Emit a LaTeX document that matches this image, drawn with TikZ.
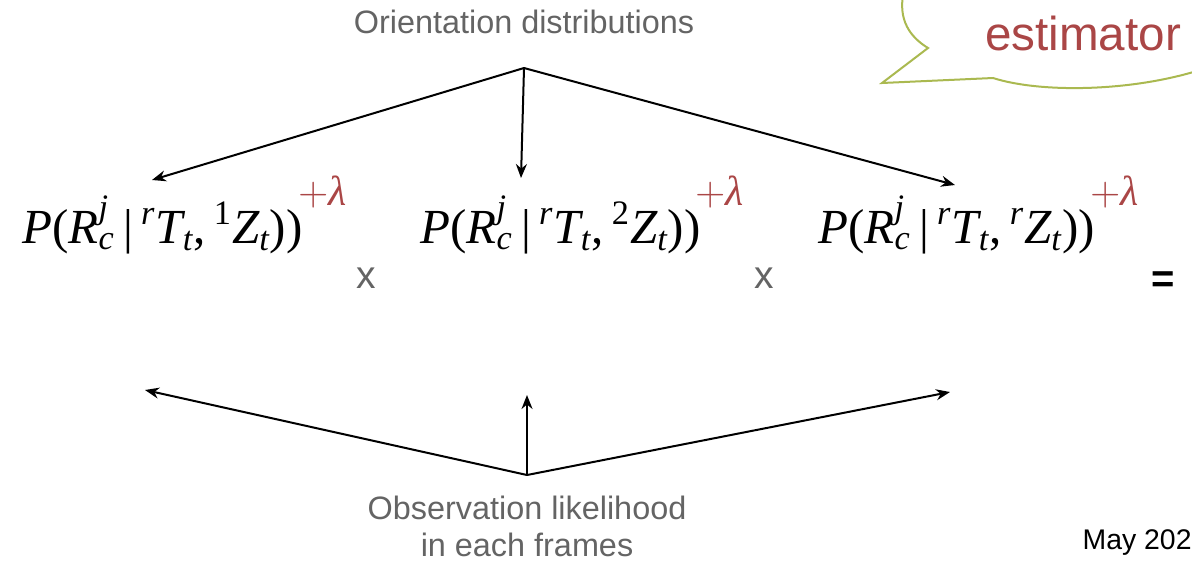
\documentclass[tikz,border=0pt]{standalone}
\usepackage{amsmath}
\usepackage{fontspec}
\setmainfont{Liberation Sans}
\newfontfamily\tms{Liberation Serif}
\usetikzlibrary{positioning}
\usetikzlibrary{arrows.meta}
\definecolor{lblgray}{RGB}{100,100,100}
\definecolor{lamred}{RGB}{170,70,70}
\definecolor{bubgreen}{RGB}{170,185,80}
\newcommand{\ti}[1]{\text{\tms\itshape #1}}
\newcommand{\tr}[1]{\text{\tms #1}}
\newcommand{\probterm}[1]{$\ti{P}\tr{(}\ti{R}_{\ti{c}}^{\ti{j}}\,\tr{|}\,{}^{\ti{r}}\ti{T}_{\ti{t}}\tr{,}\,{}^{#1}\ti{Z}_{\ti{t}}\tr{))}$}

\begin{document}
\begin{tikzpicture}[
    x=0.5pt, y=-0.5pt,
    every node/.style={inner sep=0pt},
    lbl/.style={font=\fontsize{16.2}{18.5}\selectfont, text=lblgray, align=center},
    formula/.style={font=\fontsize{24.5}{28}\selectfont, anchor=base west},
    lam/.style={font=\fontsize{21}{24}\selectfont, text=lamred, anchor=base west},
    times/.style={font=\fontsize{19.5}{22}\selectfont, text=lblgray, anchor=base},
    arr/.style={-{Stealth[length=7pt, width=5.5pt]}, line width=1pt},
    callout/.style={draw=bubgreen, line width=1pt, fill=white},
]
\clip (0,0) rectangle (1192,563);
% === Callout ===
\draw[callout] (903,-5) .. controls (898,25) and (915,40) .. (928,48) -- (882,83) -- (993,78)
    .. controls (1040,93) and (1130,92) .. (1200,70);
\node[font=\fontsize{23.8}{26}\selectfont, text=lamred] (est) at (1083,33) {estimator};
% === Top label ===
\node[lbl] (orient) at (524,22) {Orientation distributions};
\coordinate (top) at (524,68);
% === Formulas ===
\node[formula] (f1) at (22,243) {\probterm{\tr{1}}};
\node[formula] (f2) at (420,243) {\probterm{\tr{2}}};
\node[formula] (f3) at (818,243) {\probterm{\ti{r}}};
\node[lam] (l1) at (298,205) {$+\ti{λ}$};
\node[lam] (l2) at (695,205) {$+\ti{λ}$};
\node[lam] (l3) at (1090,205) {$+\ti{λ}$};
\node[times] (x1) at (366,288) {x};
\node[times] (x2) at (764,288) {x};
\node[font=\fontsize{20}{22}\selectfont\bfseries] (eq) at (1163,282) {=};
% Arrow ends
\coordinate (t1) at (152,180);
\coordinate (t2) at (521,178);
\coordinate (t3) at (955,185);
\coordinate (b1) at (145,390);
\coordinate (b2) at (527,395);
\coordinate (b3) at (950,392);
% Top arrows
\draw[arr] (top) -- (t1);
\draw[arr] (top) -- (t2);
\draw[arr] (top) -- (t3);
% === Bottom ===
\coordinate (bot) at (527,475);
\draw[arr] (bot) -- (b1);
\draw[arr] (bot) -- (b2);
\draw[arr] (bot) -- (b3);
\node[lbl] (obs) at (527,526) {Observation likelihood\\in each frames};
\node[font=\fontsize{14.2}{16}\selectfont, anchor=base east] (date) at (1192,549) {May 202};
\end{tikzpicture}
\end{document}
